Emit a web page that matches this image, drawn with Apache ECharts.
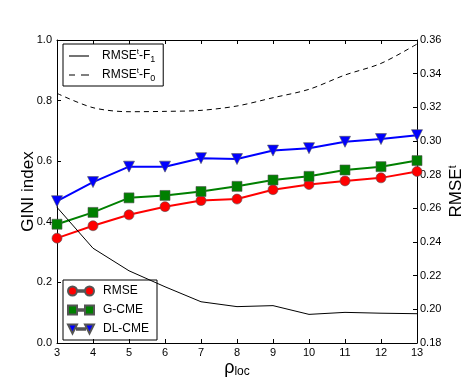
<!DOCTYPE html>
<html>
<head>
<meta charset="utf-8">
<script src="https://cdn.jsdelivr.net/npm/echarts@6/dist/echarts.min.js"></script>
<style>
  html, body { margin: 0; padding: 0; background: #fff; }
  #main { width: 463px; height: 382px; }
</style>
</head>
<body>
<div id="main"></div>
<script>
// x values (rho_loc)
var rhoLoc = [3, 4, 5, 6, 7, 8, 9, 10, 11, 12, 13];

// GINI index, left axis
var giniRmse = [0.346, 0.387, 0.423, 0.450, 0.470, 0.475, 0.506, 0.523, 0.535, 0.545, 0.566];
var giniGcme = [0.392, 0.431, 0.479, 0.487, 0.500, 0.517, 0.538, 0.550, 0.571, 0.582, 0.602];
var giniDlcme = [0.468, 0.531, 0.582, 0.582, 0.610, 0.607, 0.635, 0.643, 0.664, 0.673, 0.686];

// RMSE^t, right axis
var rmseF1 = [0.2606, 0.2363, 0.2229, 0.2134, 0.2045, 0.2016, 0.2022, 0.1970, 0.1982, 0.1977, 0.1974];
var rmseF0 = [0.3283, 0.3198, 0.3174, 0.3176, 0.3182, 0.3208, 0.3257, 0.3307, 0.3392, 0.3461, 0.3576];

var font = '"Liberation Sans", Arial, sans-serif';

function pairs(ys) {
  return rhoLoc.map(function (x, i) { return [x, ys[i]]; });
}

var legendNames = {
  'F1': '{n|RMSE}{sup|t}{n|-F}{sub|1}',
  'F0': '{n|RMSE}{sup|t}{n|-F}{sub|0}'
};
var legendRich = {
  n: { fontSize: 12, fontFamily: font, color: '#000', lineHeight: 16 },
  sup: { fontSize: 8, fontFamily: font, color: '#000', lineHeight: 8, verticalAlign: 'top' },
  sub: { fontSize: 9, fontFamily: font, color: '#000', lineHeight: 9, verticalAlign: 'bottom' }
};

// legend glyphs
var iconSolid = 'path://M0,0L20,0L20,1.1L0,1.1Z';
var iconDashed = 'path://M0,0L6,0L6,1.1L0,1.1ZM12,0L20,0L20,1.1L12,1.1Z';
var line = 'M9,3.7L17,3.7L17,5.3L9,5.3Z';
var iconCircle = 'path://M0,4.5A4.5,4.5,0,1,0,9,4.5A4.5,4.5,0,1,0,0,4.5Z' +
  'M17,4.5A4.5,4.5,0,1,0,26,4.5A4.5,4.5,0,1,0,17,4.5Z' + line;
var iconSquare = 'path://M0,0L9,0L9,9L0,9ZM17,0L26,0L26,9L17,9Z' + line;
var iconTri = 'path://M0,0L9,0L4.5,9ZM17,0L26,0L21.5,9Z' + line;

var dom = document.getElementById('main');
var myChart = echarts.init(dom, null, { renderer: 'canvas' });

var option = {
  animation: false,
  backgroundColor: '#fff',
  textStyle: { fontFamily: font },
  grid: { left: 57, right: 46, top: 40, bottom: 39, containLabel: false, outerBoundsMode: 'none' },
  legend: [
    {
      left: 63, top: 44,
      orient: 'vertical',
      padding: [4, 8, 3, 6],
      itemGap: 3,
      itemWidth: 20,
      itemHeight: 10,
      borderColor: '#000',
      borderWidth: 1,
      borderRadius: 0,
      data: [{ name: 'F1', icon: iconSolid }, { name: 'F0', icon: iconDashed }],
      formatter: function (name) { return legendNames[name]; },
      textStyle: { padding: [0, 0, 0, 8], rich: legendRich }
    },
    {
      left: 63, top: 280,
      orient: 'vertical',
      padding: [5, 8, 5, 4],
      itemGap: 7,
      itemWidth: 26,
      itemHeight: 9,
      borderColor: '#000',
      borderWidth: 1,
      borderRadius: 0,
      data: [
        { name: 'RMSE', icon: iconCircle },
        { name: 'G-CME', icon: iconSquare },
        { name: 'DL-CME', icon: iconTri }
      ],
      textStyle: { fontSize: 12, fontFamily: font, color: '#000', padding: [0, 0, 0, 4] }
    }
  ],
  xAxis: [
    {
      type: 'value',
      min: 3, max: 13, interval: 1,
      position: 'bottom',
      name: '{r|ρ}{s|loc}',
      nameLocation: 'middle',
      nameMoveOverlap: false,
      nameGap: 15,
      nameTextStyle: {
        rich: {
          r: { fontSize: 18, fontFamily: font, color: '#000', lineHeight: 20 },
          s: { fontSize: 12, fontFamily: font, color: '#000', lineHeight: 12, verticalAlign: 'bottom' }
        }
      },
      axisLine: { lineStyle: { color: '#000', width: 1 } },
      axisTick: { inside: true, length: 4, lineStyle: { color: '#000' } },
      axisLabel: { margin: 4, fontSize: 11, color: '#000', fontFamily: font },
      splitLine: { show: false }
    },
    {
      type: 'value',
      min: 3, max: 13, interval: 1,
      position: 'top',
      axisLine: { lineStyle: { color: '#000', width: 1 } },
      axisTick: { inside: true, length: 4, lineStyle: { color: '#000' } },
      axisLabel: { show: false },
      splitLine: { show: false }
    }
  ],
  yAxis: [
    {
      type: 'value',
      min: 0, max: 1, interval: 0.2,
      position: 'left',
      name: 'GINI index',
      nameLocation: 'middle',
      nameRotate: 90,
      nameMoveOverlap: false,
      nameGap: 20,
      nameTextStyle: { fontSize: 17, color: '#000', fontFamily: font },
      axisLine: { show: true, lineStyle: { color: '#000', width: 1 } },
      axisTick: { show: true, inside: true, length: 4, lineStyle: { color: '#000' } },
      axisLabel: {
        margin: 5, fontSize: 11, color: '#000', fontFamily: font,
        formatter: function (v) { return v.toFixed(1); }
      },
      splitLine: { show: false }
    },
    {
      type: 'value',
      min: 0.18, max: 0.36, interval: 0.02,
      position: 'right',
      name: '{n|RMSE}{sup|t}',
      nameLocation: 'middle',
      nameRotate: 90,
      nameMoveOverlap: false,
      nameGap: 31,
      nameTextStyle: {
        rich: {
          n: { fontSize: 17, fontFamily: font, color: '#000', lineHeight: 16 },
          sup: { fontSize: 10, fontFamily: font, color: '#000', lineHeight: 9, verticalAlign: 'top' }
        }
      },
      axisLine: { show: true, lineStyle: { color: '#000', width: 1 } },
      axisTick: { show: true, inside: true, length: 4, lineStyle: { color: '#000' } },
      axisLabel: {
        margin: 3, fontSize: 11, color: '#000', fontFamily: font,
        formatter: function (v) { return v.toFixed(2); }
      },
      splitLine: { show: false }
    }
  ],
  series: [
    {
      name: 'RMSE', type: 'line', xAxisIndex: 0, yAxisIndex: 0,
      data: pairs(giniRmse),
      symbol: 'circle', symbolSize: 10,
      lineStyle: { color: '#ff0000', width: 2 },
      itemStyle: { color: '#ff0000', borderColor: '#555', borderWidth: 0.6 }
    },
    {
      name: 'G-CME', type: 'line', xAxisIndex: 0, yAxisIndex: 0,
      data: pairs(giniGcme),
      symbol: 'rect', symbolSize: 10,
      lineStyle: { color: '#008000', width: 2 },
      itemStyle: { color: '#008000', borderColor: '#555', borderWidth: 0.6 }
    },
    {
      name: 'DL-CME', type: 'line', xAxisIndex: 0, yAxisIndex: 0,
      data: pairs(giniDlcme),
      symbol: 'triangle', symbolRotate: 180, symbolSize: 11,
      lineStyle: { color: '#0000ff', width: 2 },
      itemStyle: { color: '#0000ff', borderColor: '#555', borderWidth: 0.6 }
    },
    {
      name: 'F1', type: 'line', xAxisIndex: 0, yAxisIndex: 1,
      data: pairs(rmseF1),
      symbol: 'none',
      lineStyle: { color: '#000', width: 1 },
      itemStyle: { color: '#000' }
    },
    {
      name: 'F0', type: 'line', xAxisIndex: 0, yAxisIndex: 1,
      data: pairs(rmseF0),
      symbol: 'none',
      smooth: 0.3,
      lineStyle: { color: '#000', width: 1, type: [5, 4] },
      itemStyle: { color: '#000' }
    }
  ]
};

if (option && typeof option === 'object') {
  myChart.setOption(option, true);
}
</script>
</body>
</html>
